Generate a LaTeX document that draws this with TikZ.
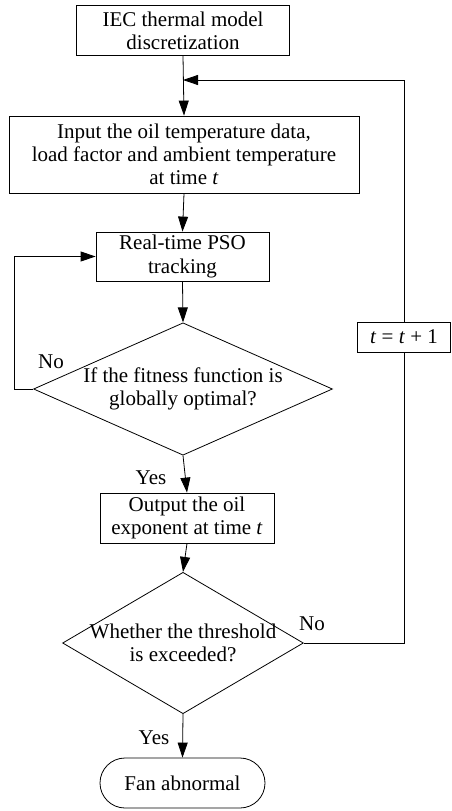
\documentclass[tikz,border=0pt]{standalone}
\usepackage{fontspec}
\setmainfont{Liberation Serif}
\usetikzlibrary{shapes.geometric}
\usetikzlibrary{arrows.meta}

\begin{document}
\begin{tikzpicture}[x=1pt,y=-1pt,line width=0.8pt,
    font=\fontsize{21}{23.3}\selectfont,
    box/.style={draw,rectangle,align=center,inner sep=0pt},
    cond/.style={draw,diamond,align=center},
    arr/.style={-{Triangle[length=15pt,width=10pt]}}]
%      \draw[style=help lines] (0,0) grid[step=50] (451,811);
      \useasboundingbox (0,0) rectangle (451,811);
      \node[box,minimum width=213pt,minimum height=50pt] (iec) at (183,30.5)
        {IEC thermal model\\discretization};
      \node[box,minimum width=350pt,minimum height=77pt] (input) at (184,154.5)
        {Input the oil temperature data,\\load factor and ambient temperature\\at time \textit{t}};
      \node[box,minimum width=173pt,minimum height=49pt] (pso) at (182.5,256.5)
        {Real-time PSO\\tracking};
      \node[cond,shape aspect=2.258,inner sep=0.5pt] (fit) at (183,389)
        {If the fitness function is\\globally optimal?};
      \node[box,minimum width=174pt,minimum height=50pt] (out) at (187,518)
        {Output the oil\\exponent at time \textit{t}};
      \node[cond,shape aspect=1.703,inner sep=-2pt] (thr) at (183,643)
        {Whether the threshold\\is exceeded?};
      \node[box,rounded corners=25pt,minimum width=165pt,minimum height=50pt] (fan) at (182.5,783)
        {Fan abnormal};
      \node[box,minimum width=93pt,minimum height=30pt] (inc) at (404,337)
        {\textit{t} = \textit{t} + 1};
      \coordinate (join) at (183,80);
      % main flow
      \draw[arr] (iec.south) -- (input.north);
      \draw[arr] (input.south) -- (pso.north);
      \draw[arr] (pso.south) -- (fit.north);
      \draw[arr] (fit.south) -- (out.north);
      \draw[arr] (out.south) -- (thr.north);
      \draw[arr] (thr.south) -- (fan.north);
      % loops
      \draw[arr] (fit.west) -- ++(-19,0) |- (pso.west);
      \draw (thr.east) -| (inc.south);
      \draw[arr] (inc.north) |- (join);
      \node (no1) at (51,362) {No};
      \node (yes1) at (151,478) {Yes};
      \node (no2) at (312,624) {No};
      \node (yes2) at (154,738) {Yes};
    \end{tikzpicture}
\end{document}
